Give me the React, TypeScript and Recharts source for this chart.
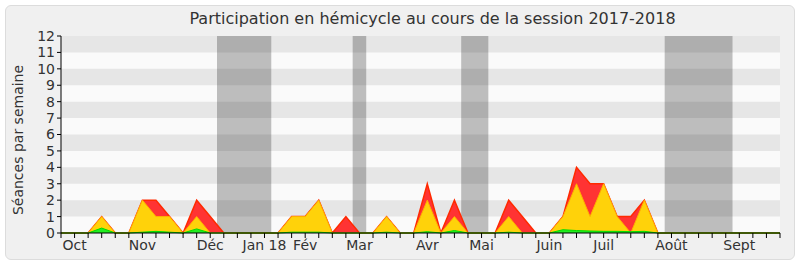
import React from "react";
import { AreaChart, Area, XAxis, YAxis, CartesianGrid, ReferenceArea } from "recharts";

const FONT = "'DejaVu Sans', sans-serif";

// one point per week, from end of Sept 2017 to Sept 2018
const weeks = [
  0, 1, 2, 3, 4, 5, 6, 7, 8, 9, 10, 11, 12, 13, 14, 15, 16, 17, 18, 19, 20, 21, 22, 23, 24, 25, 26,
  27, 28, 29, 30, 31, 32, 33, 34, 35, 36, 37, 38, 39, 40, 41, 42, 43, 44, 45, 46, 47, 48, 49, 50, 51,
  52, 53,
];
// red: séances en hémicycle
const hemicycle = [
  0, 0, 0, 1, 0, 0, 2, 2, 1, 0, 2, 1, 0, 0, 0, 0, 0, 1, 1, 2, 0, 1, 0, 0, 1, 0, 0,
  3, 0, 2, 0, 0, 0, 2, 1, 0, 0, 1, 4, 3, 3, 1, 1, 2, 0, 0, 0, 0, 0, 0, 0, 0,
  0, 0,
];
// yellow: présences
const presences = [
  0, 0, 0, 1, 0, 0, 2, 1, 1, 0, 1, 0, 0, 0, 0, 0, 0, 1, 1, 2, 0, 0, 0, 0, 1, 0, 0,
  2, 0, 1, 0, 0, 0, 1, 0, 0, 0, 1, 3, 1, 3, 1, 0, 2, 0, 0, 0, 0, 0, 0, 0, 0,
  0, 0,
];
// green: interventions
const interventions = [
  0, 0, 0, 0.3, 0, 0, 0.05, 0.1, 0.05, 0, 0.25, 0, 0, 0, 0, 0, 0, 0.05, 0.05, 0.05, 0, 0, 0, 0, 0.05, 0, 0,
  0.08, 0, 0.15, 0, 0, 0, 0.05, 0, 0, 0, 0.2, 0.15, 0.12, 0.1, 0.1, 0.08, 0.1, 0, 0, 0, 0, 0, 0, 0, 0,
  0, 0,
];

const monthWeeks = [1, 6, 11, 15, 18, 22, 27, 31, 36, 40, 45, 50];
const monthLabels = ["Oct", "Nov", "Déc", "Jan 18", "Fév", "Mar", "Avr", "Mai", "Juin", "Juil", "Août", "Sept"];

// vacances parlementaires (en semaines)
const vacances = [
  [11.5, 15.5],
  [21.5, 22.5],
  [29.5, 31.5],
  [44.5, 49.5],
];

const yTicks = [0, 1, 2, 3, 4, 5, 6, 7, 8, 9, 10, 11, 12];

const data = weeks.map((week, i) => ({
  week,
  hemicycle: hemicycle[i],
  presences: presences[i],
  interventions: interventions[i],
}));

const monthOf = (w: number) => {
  const idx = monthWeeks.indexOf(w);
  return idx >= 0 ? monthLabels[idx] : "";
};

export default function App() {
  return (
    <div style={{ position: "absolute", left: 0, top: 0, width: 800, height: 267, fontFamily: FONT }}>
      <div
        style={{
          position: "absolute",
          left: 5,
          top: 5,
          width: 788,
          height: 253,
          background: "#f0f0f0",
          border: "1px solid #dcdcdc",
          borderRadius: 6,
        }}
      />
      <div
        style={{
          position: "absolute",
          left: 61,
          width: 719,
          top: 9,
          textAlign: "center",
          fontSize: 16,
          color: "#333",
          paddingLeft: 12,
        }}
      >
        Participation en hémicycle au cours de la session 2017-2018
      </div>
      <div style={{ position: "absolute", left: 0, top: 0 }}>
        <AreaChart width={800} height={267} data={data} margin={{ top: 35, right: 20, bottom: 4, left: 0 }}>
          <CartesianGrid horizontal={false} vertical={false} fill="#fafafa" />
          {vacances.map(([a, b]) => (
            <ReferenceArea key={"v" + a} x1={a} x2={b} y1={0} y2={12} fill="#bdbdbd" fillOpacity={1} stroke="none" />
          ))}
          {yTicks
            .filter((t) => t % 2 === 1)
            .map((t) => (
              <ReferenceArea key={"s" + t} y1={t} y2={t + 1} fill="#000" fillOpacity={0.08} stroke="none" />
            ))}
          <XAxis
            xAxisId="top"
            orientation="top"
            type="number"
            dataKey="week"
            domain={[0, 53]}
            ticks={weeks}
            interval={0}
            tick={false}
            axisLine={false}
            tickSize={2}
            tickLine={{ stroke: "#000" }}
            height={1}
          />
          <XAxis
            type="number"
            dataKey="week"
            domain={[0, 53]}
            ticks={weeks}
            interval={0}
            tickFormatter={monthOf}
            tickSize={5}
            height={30}
            axisLine={{ stroke: "#000" }}
            tickLine={{ stroke: "#000" }}
            tick={{ fontSize: 14, fill: "#333", fontFamily: FONT }}
          />
          <YAxis
            type="number"
            domain={[0, 12]}
            ticks={yTicks}
            interval={0}
            width={61}
            tickSize={4}
            axisLine={{ stroke: "#000" }}
            tickLine={{ stroke: "#000" }}
            tick={{ fontSize: 14, fill: "#333", fontFamily: FONT }}
            label={{
              content: () => (
                <text
                  x={18}
                  y={140}
                  transform="rotate(-90, 18, 140)"
                  textAnchor="middle"
                  dominantBaseline="central"
                  fontSize={14}
                  fill="#333"
                  fontFamily={FONT}
                >
                  Séances par semaine
                </text>
              ),
            }}
          />
          <Area
            type="linear"
            dataKey="hemicycle"
            stroke="#ff2a00"
            strokeWidth={1.5}
            fill="#ff3333"
            fillOpacity={1}
            isAnimationActive={false}
            dot={false}
            activeDot={false}
          />
          <Area
            type="linear"
            dataKey="presences"
            stroke="#ffb000"
            strokeWidth={1}
            fill="#ffd20a"
            fillOpacity={1}
            isAnimationActive={false}
            dot={false}
            activeDot={false}
          />
          <Area
            type="linear"
            dataKey="interventions"
            stroke="#00dd00"
            strokeWidth={1}
            fill="#22ee22"
            fillOpacity={1}
            isAnimationActive={false}
            dot={false}
            activeDot={false}
          />
        </AreaChart>
      </div>
    </div>
  );
}
